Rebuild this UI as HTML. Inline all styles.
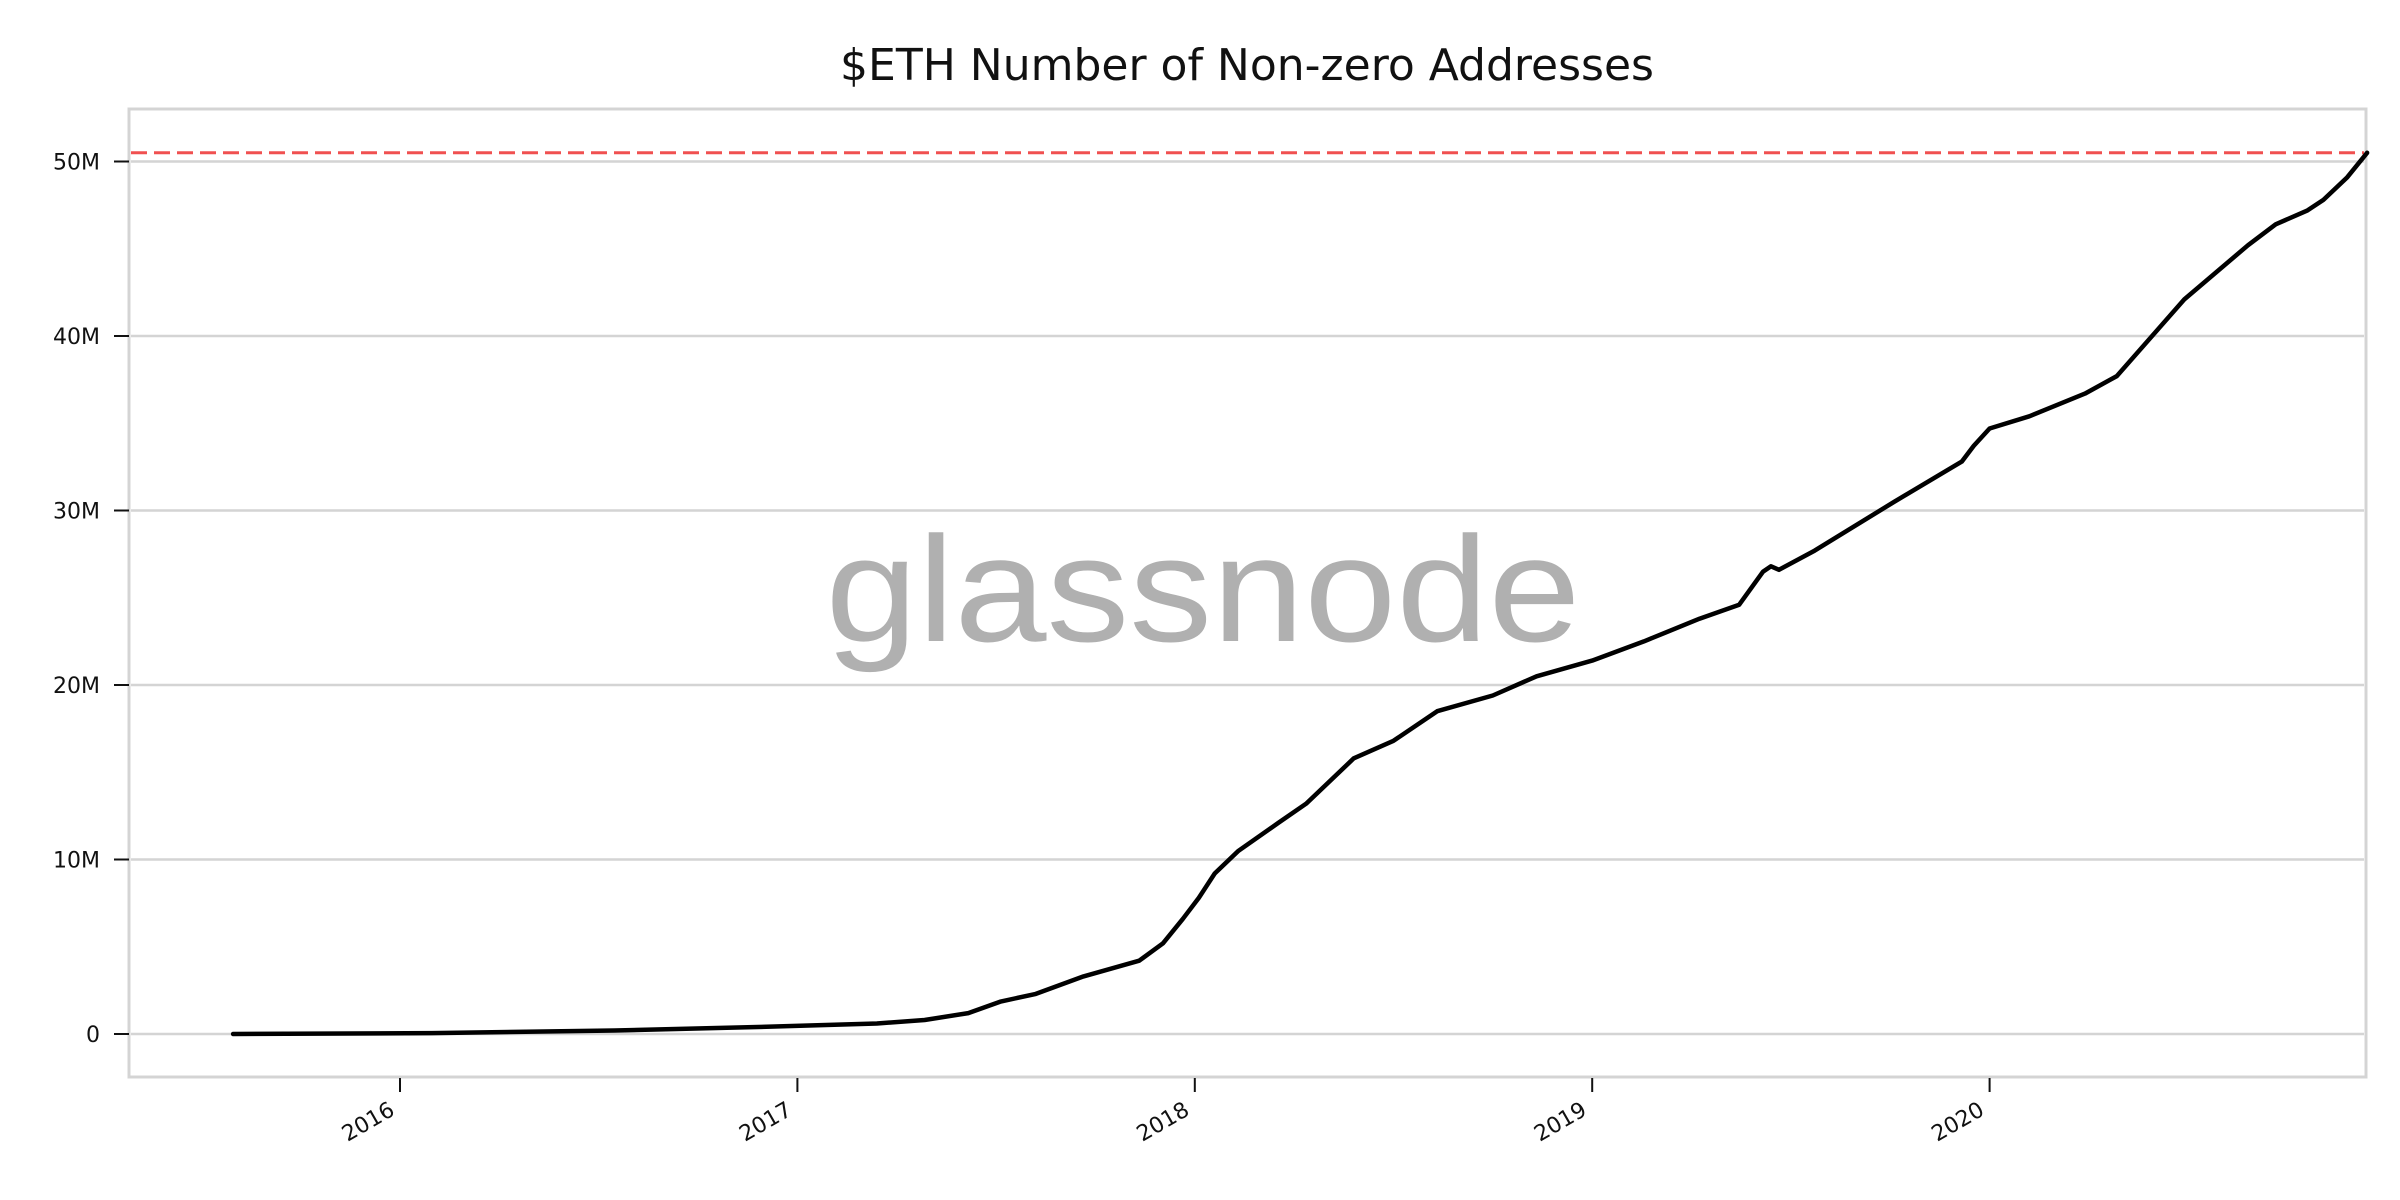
<!DOCTYPE html>
<html><head><meta charset="utf-8"><style>
html,body{margin:0;padding:0;background:#fff;}
svg{display:block;font-family:"DejaVu Sans","Liberation Sans",sans-serif;}
</style></head><body>
<svg id="chart" width="2400" height="1200" viewBox="0 0 2400 1200">
<text x="1247" y="80" font-size="44" text-anchor="middle" fill="#111">$ETH Number of Non-zero Addresses</text>
<rect x="129" y="109" width="2237" height="968" fill="none" stroke="#d4d4d4" stroke-width="3"/>
<g id="grid"></g>
<text x="1203" y="641" font-size="150" fill="#b0b0b0" text-anchor="middle" textLength="755" lengthAdjust="spacingAndGlyphs" font-family="Liberation Sans, sans-serif">glassnode</text>
<g id="marks"></g>
</svg>
<script>
const yTicks=[0,10,20,30,40,50];
const yTickLabels=["0","10M","20M","30M","40M","50M"];
const xTicks=[2016,2017,2018,2019,2020];
const xTickLabels=["2016","2017","2018","2019","2020"];
const dates=[2015.58,2016.08,2016.54,2016.9,2017.2,2017.32,2017.43,2017.51,2017.6,2017.72,2017.86,2017.92,2017.97,2018.01,2018.05,2018.11,2018.21,2018.28,2018.4,2018.5,2018.61,2018.75,2018.86,2019.0,2019.13,2019.27,2019.37,2019.43,2019.45,2019.47,2019.56,2019.76,2019.93,2019.96,2020.0,2020.1,2020.24,2020.32,2020.49,2020.65,2020.72,2020.8,2020.84,2020.9,2020.95];
const addresses=[0,0.05,0.2,0.4,0.6,0.8,1.2,1.85,2.3,3.3,4.2,5.2,6.6,7.8,9.2,10.5,12.1,13.2,15.8,16.8,18.5,19.4,20.5,21.4,22.5,23.8,24.6,26.5,26.8,26.6,27.7,30.5,32.8,33.7,34.7,35.4,36.7,37.7,42.1,45.2,46.4,47.2,47.8,49.1,50.5];
const athValue=[50.5];
const NS="http://www.w3.org/2000/svg";
function xs(t){return 400+(t-2016)*397.4;}
function ys(v){return 1034-v*17.45;}
const grid=document.getElementById('grid');
const marks=document.getElementById('marks');
function mk(tag,attrs,parent){const e=document.createElementNS(NS,tag);for(const k in attrs)e.setAttribute(k,attrs[k]);parent.appendChild(e);return e;}
yTicks.forEach((v,i)=>{
  const g=mk('line',{x1:131,x2:2364,y1:ys(v),y2:ys(v),stroke:'#d4d4d4','stroke-width':2.5},grid);
  
  
  const t=mk('line',{x1:114,x2:129,y1:ys(v),y2:ys(v),stroke:'#111','stroke-width':2},grid);
  
  
  const l=mk('text',{x:100,y:ys(v)+8,'font-size':22,'text-anchor':'end',fill:'#111'},grid);
  l.textContent=yTickLabels[i];
  
  
});
xTicks.forEach((t,i)=>{
  const x=xs(t);
  const tk=mk('line',{x1:x,x2:x,y1:1078,y2:1092,stroke:'#111','stroke-width':2},grid);
  
  
  const l=mk('text',{x:x-4,y:1114,'font-size':22,'text-anchor':'end',fill:'#111',transform:`rotate(-30 ${x-4} 1114)`},grid);
  l.textContent=xTickLabels[i];
  
  
});
const ath=mk('line',{x1:131,x2:2364,y1:ys(athValue[0]),y2:ys(athValue[0]),stroke:'#f05050','stroke-width':3,'stroke-dasharray':'16,7'},marks);


const d=dates.map((t,i)=>(i?'L':'M')+xs(t).toFixed(1)+','+ys(addresses[i]).toFixed(1)).join(' ');
const p=mk('path',{d:d,fill:'none',stroke:'#000','stroke-width':4.5,'stroke-linejoin':'round','stroke-linecap':'round'},marks);


</script>
</body></html>
